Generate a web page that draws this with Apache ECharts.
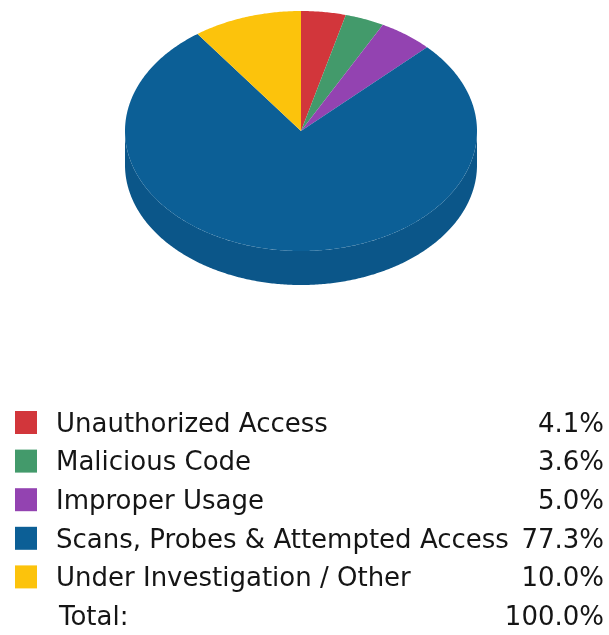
<!DOCTYPE html>
<html>
<head>
<meta charset="utf-8">
<script src="https://cdn.jsdelivr.net/npm/echarts@6/dist/echarts.min.js"></script>
<style>
  html, body { margin: 0; padding: 0; background: #ffffff; }
  #chart { width: 609px; height: 635px; }
</style>
</head>
<body>
<div id="chart"></div>
<script>
// Incident categories and their shares (percent)
const categories = [
  'Unauthorized Access',
  'Malicious Code',
  'Improper Usage',
  'Scans, Probes & Attempted Access',
  'Under Investigation / Other'
];
const shares = [4.1, 3.6, 5.0, 77.3, 10.0];
const topColors = ['#d2363b', '#439a6b', '#9343b1', '#0c5f96', '#fcc30c'];
const sideColors = ['#b42f33', '#387f59', '#7c3995', '#0b5689', '#d6a60b'];
const totalLabel = 'Total:';

const total = shares.reduce((a, b) => a + b, 0);
const starts = [];
shares.reduce((acc, v) => { starts.push(acc); return acc + v; }, 0);

// Tilted pie geometry
const CX = 301, CY = 131, RX = 176, RY = 120, DEPTH = 34;

function rim(a, dy) {
  return [CX + RX * Math.sin(a), CY - RY * Math.cos(a) + (dy || 0)];
}

function arcPoints(a0, a1, dy) {
  const pts = [];
  const n = Math.max(2, Math.ceil((a1 - a0) / 0.01));
  for (let i = 0; i <= n; i++) pts.push(rim(a0 + (a1 - a0) * i / n, dy));
  return pts;
}

function renderSlice(params, api) {
  const v = api.value(0), s = api.value(1);
  const i = params.dataIndex;
  const a0 = s / total * Math.PI * 2;
  const a1 = (s + v) / total * Math.PI * 2;
  const children = [];
  // front-facing side wall: the part of the rim in the lower half
  const b0 = Math.max(a0, Math.PI / 2), b1 = Math.min(a1, Math.PI * 1.5);
  if (b1 > b0) {
    const upper = arcPoints(b0, b1, 0);
    const lower = arcPoints(b0, b1, DEPTH).reverse();
    children.push({
      type: 'polygon',
      shape: { points: upper.concat(lower) },
      style: { fill: sideColors[i] }
    });
  }
  // top face
  children.push({
    type: 'polygon',
    shape: { points: [[CX, CY]].concat(arcPoints(a0, a1, 0)) },
    style: { fill: topColors[i] }
  });
  return { type: 'group', children: children };
}

// Legend table below the pie
const FONT = '26px "DejaVu Sans", Verdana, sans-serif';
const TEXT_COLOR = '#151515';
const ROW0 = 425, ROW_H = 38.6;
const legend = [];
categories.forEach((name, i) => {
  const y = ROW0 + i * ROW_H;
  legend.push({
    type: 'rect', left: 15, top: y - 14,
    shape: { width: 22, height: 23 },
    style: { fill: topColors[i] }
  });
  legend.push({
    type: 'text', x: 56, y: y,
    style: { text: name, font: FONT, fill: TEXT_COLOR, textVerticalAlign: 'middle', textAlign: 'left' }
  });
  legend.push({
    type: 'text', x: 604, y: y,
    style: { text: shares[i].toFixed(1) + '%', font: FONT, fill: TEXT_COLOR, textVerticalAlign: 'middle', textAlign: 'right' }
  });
});
const totalY = ROW0 + categories.length * ROW_H;
legend.push({
  type: 'text', x: 59, y: totalY,
  style: { text: totalLabel, font: FONT, fill: TEXT_COLOR, textVerticalAlign: 'middle', textAlign: 'left' }
});
legend.push({
  type: 'text', x: 604, y: totalY,
  style: { text: total.toFixed(1) + '%', font: FONT, fill: TEXT_COLOR, textVerticalAlign: 'middle', textAlign: 'right' }
});

const chart = echarts.init(document.getElementById('chart'), null, { renderer: 'canvas' });
chart.setOption({
  backgroundColor: '#ffffff',
  animation: false,
  series: [{
    type: 'custom',
    coordinateSystem: 'none',
    renderItem: renderSlice,
    data: shares.map((v, i) => ({ name: categories[i], value: [v, starts[i]] }))
  }],
  graphic: legend
});
</script>
</body>
</html>
